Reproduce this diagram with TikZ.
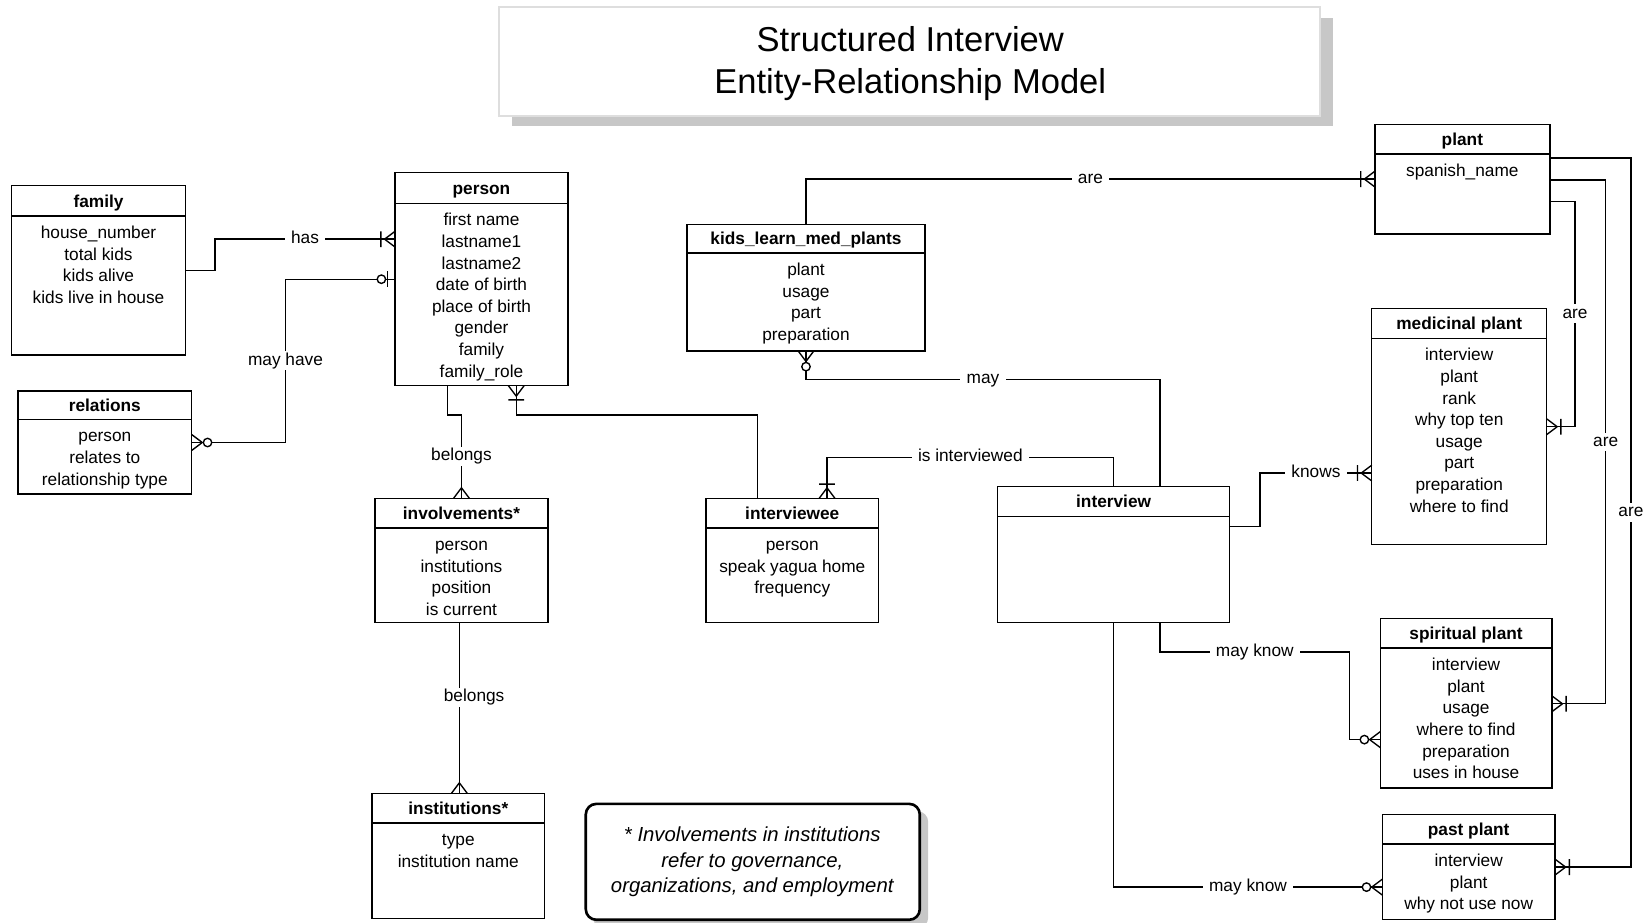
\documentclass[tikz,border=0pt]{standalone}
\usepackage{fontspec}
\setmainfont{Liberation Sans}
\tikzset{
  crowfoot/.pic={\draw (-10,0) -- (0,7.5) (-10,0) -- (0,-7.5);},
  onemany/.pic={\draw (-10,0) -- (0,7.5) (-10,0) -- (0,-7.5) (-13.5,-7.5) -- (-13.5,7.5);},
  zeromany/.pic={\draw (-10,0) -- (0,7.5) (-10,0) -- (0,-7.5); \draw[fill=white] (-15,0) circle (4pt);},
  zeroone/.pic={\draw (-7,-7.5) -- (-7,7.5); \draw[fill=white] (-13,0) circle (4pt);},
}
\newcommand\ERbox[8]{%
  \node[ebox, minimum width={#4-#2}, minimum height={#5-#3}, anchor=north west] (#1) at (#2,#3) {};
  \draw (#2,#6) -- (#4,#6);
  \node[etitle, anchor=base] (#1-t) at ({(#2+#4)/2},{(#3+#6)/2+6}) {#7};
  \if\relax\detokenize{#8}\relax\else
  \foreach \ERattr [count=\ERidx] in {#8} {\node[attr, anchor=base] (#1-a\ERidx) at ({(#2+#4)/2},{#6+21.5+(\ERidx-1)*20.5}) {\ERattr};}
  \fi
}
\begin{document}
\begin{tikzpicture}[x=1pt, y=-1pt, line width=1.3pt,
  ebox/.style={draw, fill=white, inner sep=0pt, outer sep=0pt},
  etitle/.style={font=\bfseries\fontsize{16.4}{20}\selectfont, inner sep=0pt},
  attr/.style={font=\fontsize{16.4}{20}\selectfont, inner sep=0pt},
  lbl/.style={fill=white, font=\fontsize{16.4}{20}\selectfont, inner xsep=6pt, inner ysep=1.5pt, text height=11.5pt, text depth=3.5pt},
  titlefont/.style={font=\fontsize{32.8}{40}\selectfont, inner sep=0pt},
  notefont/.style={font=\itshape\fontsize{19.3}{24}\selectfont, inner sep=0pt},
  shadow/.style={fill=black!22}]
\useasboundingbox (0,0) rectangle (1568,876);

% title
\fill[shadow] (486,17) rectangle (1265,120);
\node[draw=black!13, line width=2pt, fill=white, minimum width=779, minimum height=103, anchor=north west, inner sep=0pt, outer sep=0pt] (titlebox) at (474,7) {};
\node[titlefont, anchor=base] (title1) at (864,49) {Structured Interview};
\node[titlefont, anchor=base] (title2) at (864,89) {Entity-Relationship Model};

% note
\fill[shadow, rounded corners=10pt] (563,770) rectangle (881,881);
\node[draw, line width=2.5pt, rounded corners=10pt, fill=white, minimum width=317, minimum height=110, anchor=north west, inner sep=0pt, outer sep=0pt] (note) at (556,763) {};
\node[notefont, anchor=base] (note1) at (714,799) {* Involvements in institutions};
\node[notefont, anchor=base] (note2) at (714,823) {refer to governance,};
\node[notefont, anchor=base] (note3) at (714,847) {organizations, and employment};

% entities
\ERbox{family}{11}{176}{176}{337}{205}{family}{house\_number, total kids, kids alive, kids live in house}
\ERbox{person}{375}{164}{539}{366}{193}{person}{first name, lastname1, lastname2, date of birth, place of birth, gender, family, family\_role}
\ERbox{relations}{17}{371}{182}{469}{398}{relations}{person, relates to, relationship type}
\ERbox{involvements}{356}{473}{520}{591}{501}{involvements*}{person, institutions, position, is current}
\ERbox{institutions}{353}{753}{517}{872}{781}{institutions*}{type, institution name}
\ERbox{kids}{652}{213}{878}{333}{240}{kids\_learn\_med\_plants}{plant, usage, part, preparation}
\ERbox{interviewee}{670}{473}{834}{591}{501}{interviewee}{person, speak yagua home, frequency}
\ERbox{interview}{947}{462}{1167}{591}{490}{interview}{}
\ERbox{plant}{1305}{118}{1471}{222}{146}{plant}{spanish\_name}
\ERbox{medicinal}{1302}{293}{1468}{517}{321}{medicinal plant}{interview, plant, rank, why top ten, usage, part, preparation, where to find}
\ERbox{spiritual}{1310}{587}{1473}{748}{615}{spiritual plant}{interview, plant, usage, where to find, preparation, uses in house}
\ERbox{past}{1312}{773}{1476}{873}{801}{past plant}{interview, plant, why not use now}

% connectors
\draw (family.east) -| (204,227) -- node[lbl] (l-has) {has} (person.west |- 0,227);
\pic at (person.west |- 0,227) {onemany};

\draw (relations.east) -| node[lbl, pos=0.75] (l-mayhave) {may have} (271,265) -- (person.west);
\pic[rotate=180] at (relations.east) {zeromany};
\pic at (person.west) {zeroone};

\draw (person.south -| 425,0) -- (425,394) -- (438,394) -- node[lbl] (l-belongs1) {belongs} (involvements.north);
\pic[rotate=-90] at (involvements.north) {crowfoot};

\draw (person.south -| 490,0) -- (490,394) -- (719,394) -- (interviewee.north -| 719,0);
\pic[rotate=90] at (person.south -| 490,0) {onemany};

\draw (interviewee.north -| 785,0) -- (785,434) -- node[lbl] (l-isint) {is interviewed} (1057,434) -- (interview.north);
\pic[rotate=-90] at (interviewee.north -| 785,0) {onemany};

\draw (kids.south) -- (765,360) -- node[lbl] (l-may) {may} (1101,360) -- (interview.north -| 1101,0);
\pic[rotate=90] at (kids.south) {zeromany};

\draw (kids.north) -- (765,170) -- node[lbl] (l-are0) {are} (plant.west |- 0,170);
\pic at (plant.west |- 0,170) {onemany};

\draw (interview.east |- 0,500) -- (1196,500) -- (1196,449) -- node[lbl] (l-knows) {knows} (medicinal.west |- 0,449);
\pic at (medicinal.west |- 0,449) {onemany};

\draw (interview.south -| 1101,0) -- (1101,619) -- node[lbl] (l-mayknow1) {may know} (1281,619) -- (1281,702) -- (spiritual.west |- 0,702);
\pic at (spiritual.west |- 0,702) {zeromany};

\draw (interview.south) -- (1057,842) -- node[lbl] (l-mayknow2) {may know} (past.west |- 0,842);
\pic at (past.west |- 0,842) {zeromany};

\draw (plant.east |- 0,191) -- (1495,191) -- node[lbl] (l-are1) {are} (1495,405) -- (medicinal.east |- 0,405);
\pic[rotate=180] at (medicinal.east |- 0,405) {onemany};
\draw (plant.east |- 0,171) -- (1524,171) -- node[lbl] (l-are2) {are} (1524,668) -- (spiritual.east |- 0,668);
\pic[rotate=180] at (spiritual.east |- 0,668) {onemany};
\draw (plant.east |- 0,150) -- (1548,150) -- node[lbl] (l-are3) {are} (1548,823) -- (past.east |- 0,823);
\pic[rotate=180] at (past.east |- 0,823) {onemany};

\draw (involvements.south -| 436,0) -- node[lbl, pos=0.44, xshift=14pt] (l-belongs2) {belongs} (institutions.north -| 436,0);
\pic[rotate=-90] at (institutions.north -| 436,0) {crowfoot};
\end{tikzpicture}
\end{document}
